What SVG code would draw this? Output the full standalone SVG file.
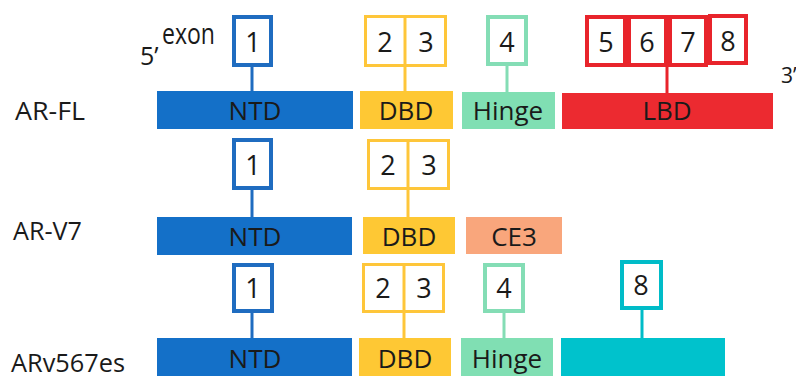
<svg xmlns="http://www.w3.org/2000/svg" width="796" height="376" viewBox="0 0 796 376">
<style>
text{font-family:"Open Sans","Liberation Sans",sans-serif;font-size:26px;fill:#1a1a1a}
.c{text-anchor:middle}
.n{font-size:27px}
.bx{fill:#fff;stroke-width:4}
.blue{fill:#1470c8}.yel{fill:#fec834}.mint{fill:#80dfb3}.red{fill:#ec2a30}.sal{fill:#f9a67c}.teal{fill:#00c2cc}
.sb{stroke:#1f6cc0}.sy{stroke:#fec63a}.sm{stroke:#84ddb5}.sr{stroke:#e8242b}.st{stroke:#00bcc8}
.stem{stroke-width:3;fill:none}
</style>
<rect width="796" height="376" fill="#fff"/>
<g id="labels">
<text x="162" y="44" style="font-size:29px" textLength="53" lengthAdjust="spacingAndGlyphs">exon</text>
<text x="140" y="65" style="font-size:25px">5’</text>
<text x="781" y="83" style="font-size:21px">3’</text>
<text x="15" y="120" textLength="70" lengthAdjust="spacingAndGlyphs">AR-FL</text>
<text x="13" y="240" textLength="69" lengthAdjust="spacingAndGlyphs">AR-V7</text>
<text x="11" y="372" textLength="114" lengthAdjust="spacingAndGlyphs">ARv567es</text>
</g>
<g id="connectors">
<line class="stem sb" x1="252" y1="66" x2="252" y2="91"/>
<line class="stem sy" x1="405" y1="17" x2="405" y2="91"/>
<line class="stem sm" x1="507" y1="64" x2="507" y2="92"/>
<line class="stem sr" x1="667" y1="64" x2="667" y2="93"/>
<line class="stem sb" x1="252" y1="189" x2="252" y2="217"/>
<line class="stem sy" x1="408" y1="140" x2="408" y2="217"/>
<line class="stem sb" x1="252" y1="312" x2="252" y2="338"/>
<line class="stem sy" x1="404" y1="264" x2="404" y2="338"/>
<line class="stem sm" x1="504" y1="312" x2="504" y2="338"/>
<line class="stem st" x1="642" y1="309" x2="642" y2="338"/>
</g>
<g id="ARFL">
<g id="fl-ex1"><rect class="bx sb" x="234" y="17" width="37" height="48"/><text class="c n" x="253" y="52">1</text></g>
<g id="fl-ex23"><rect class="bx sy" x="365.5" y="16.5" width="80" height="49" style="stroke-width:3"/><line class="stem sy" x1="405" y1="17" x2="405" y2="66"/><text class="c n" x="385" y="52">2</text><text class="c n" x="426" y="52">3</text></g>
<g id="fl-ex4"><rect class="bx sm" x="488" y="17" width="38" height="47"/><text class="c n" x="507" y="52">4</text></g>
<g id="fl-ex5678">
<rect class="bx sr" x="587" y="17" width="38" height="48"/>
<rect class="bx sr" x="629" y="17" width="37" height="48"/>
<rect class="bx sr" x="670" y="17" width="36" height="48"/>
<rect class="bx sr" x="710" y="16" width="36" height="47"/>
<text class="c n" x="606" y="52">5</text><text class="c n" x="647" y="52">6</text><text class="c n" x="688" y="52">7</text><text class="c n" x="728" y="51">8</text>
</g>
<g id="fl-ntd"><rect class="blue" x="157" y="91" width="196" height="38"/><text class="c" x="255" y="120">NTD</text></g>
<g id="fl-dbd"><rect class="yel" x="360" y="91" width="93" height="38"/><text class="c" x="406" y="120">DBD</text></g>
<g id="fl-hinge"><rect class="mint" x="462" y="92" width="93" height="37"/><text class="c" x="508" y="120">Hinge</text></g>
<g id="fl-lbd"><rect class="red" x="562" y="93" width="211" height="36"/><text class="c" x="667" y="120">LBD</text></g>
</g>
<g id="ARV7">
<g id="v7-ex1"><rect class="bx sb" x="234" y="140" width="37" height="48"/><text class="c n" x="253" y="175">1</text></g>
<g id="v7-ex23"><rect class="bx sy" x="368.5" y="140.5" width="80" height="48" style="stroke-width:3"/><line class="stem sy" x1="408" y1="140" x2="408" y2="189"/><text class="c n" x="388" y="175">2</text><text class="c n" x="429" y="175">3</text></g>
<g id="v7-ntd"><rect class="blue" x="157" y="217" width="195" height="38"/><text class="c" x="255" y="246">NTD</text></g>
<g id="v7-dbd"><rect class="yel" x="363" y="217" width="92" height="37"/><text class="c" x="409" y="246">DBD</text></g>
<g id="v7-ce3"><rect class="sal" x="466" y="217" width="96" height="37"/><text class="c" x="514" y="246">CE3</text></g>
</g>
<g id="ARv567es">
<g id="v5-ex1"><rect class="bx sb" x="234" y="265" width="38" height="46"/><text class="c n" x="253" y="298">1</text></g>
<g id="v5-ex23"><rect class="bx sy" x="363.5" y="264.5" width="80" height="47" style="stroke-width:3"/><line class="stem sy" x1="404" y1="264" x2="404" y2="312"/><text class="c n" x="383" y="298">2</text><text class="c n" x="424" y="298">3</text></g>
<g id="v5-ex4"><rect class="bx sm" x="485" y="265" width="38" height="46"/><text class="c n" x="504" y="298">4</text></g>
<g id="v5-ex8"><rect class="bx st" x="622" y="262" width="39" height="46"/><text class="c n" x="641" y="295">8</text></g>
<g id="v5-ntd"><rect class="blue" x="157" y="338" width="195" height="38"/><text class="c" x="255" y="368">NTD</text></g>
<g id="v5-dbd"><rect class="yel" x="359" y="338" width="92" height="38"/><text class="c" x="405" y="368">DBD</text></g>
<g id="v5-hinge"><rect class="mint" x="461" y="338" width="92" height="38"/><text class="c" x="507" y="368">Hinge</text></g>
<g id="v5-lbd8"><rect class="teal" x="561" y="338" width="164" height="38"/></g>
</g>
</svg>
